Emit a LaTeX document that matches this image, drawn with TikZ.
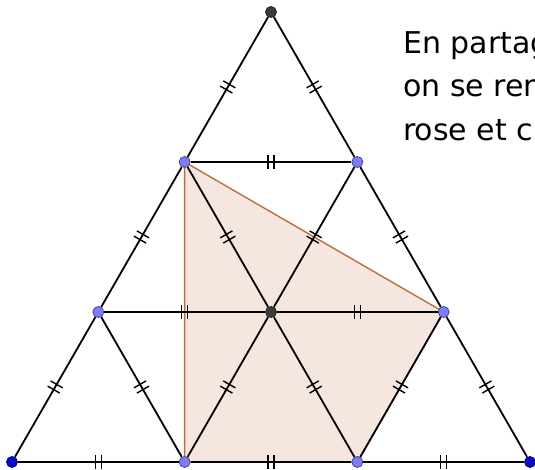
\documentclass[tikz,border=0pt]{standalone}
\usepackage{fontspec}
\newfontfamily\handfont{DejaVu Sans}
\usetikzlibrary{decorations.markings,backgrounds}
\definecolor{ptblue}{RGB}{125,125,250}
\definecolor{ptdarkblue}{RGB}{10,10,205}
\definecolor{ptgray}{RGB}{60,60,60}
\definecolor{rosefill}{RGB}{245,230,224}
\definecolor{edgeorange}{RGB}{190,110,60}
\tikzset{
  seg/.style={line width=1.8pt,postaction={decorate},
    decoration={markings,mark=at position .5 with
      {\draw[line width=1.4pt] (-3pt,-7pt) -- (-3pt,7pt) (3pt,-7pt) -- (3pt,7pt);}}},
  pt/.style={circle,inner sep=0pt,minimum size=11pt,line width=.8pt},
  txt/.style={anchor=base west,inner sep=0pt,font=\handfont\fontsize{30}{36}\selectfont}
}
\begin{document}
\begin{tikzpicture}[x=1pt,y=1pt]
  \useasboundingbox (0,0) rectangle (535,470);
  \clip (0,0) rectangle (535,470);
  % points of the grid
  \foreach \i/\j/\c in {0/0/ptdarkblue,1/0/ptblue,2/0/ptblue,3/0/ptdarkblue,
                        0/1/ptblue,1/1/ptgray,2/1/ptblue,
                        0/2/ptblue,1/2/ptblue,0/3/ptgray}
    \node[pt,fill=\c,draw=\c!55!black] (p\i\j) at ({12+172.67*\i+86.33*\j},{8+150*\j}) {};
  % rose polygon
  \begin{scope}[on background layer]
    \filldraw[fill=rosefill,draw=edgeorange,line width=1.4pt]
      (p02.center) -- (p21.center) -- (p20.center) -- (p10.center) -- cycle;
  \end{scope}
  % segments with ticks
  \foreach \a/\b in {00/10,10/20,20/30,01/11,11/21,02/12,
                     00/01,01/02,02/03,10/11,11/12,20/21,
                     30/21,21/12,12/03,20/11,11/02,10/01}
    \draw[seg] (p\a) -- (p\b);
  \node[txt] (line1) at (403,416) {En partag};
  \node[txt] (line2) at (403,373) {on se ren};
  \node[txt] (line3) at (403,329) {rose et c};
\end{tikzpicture}
\end{document}
